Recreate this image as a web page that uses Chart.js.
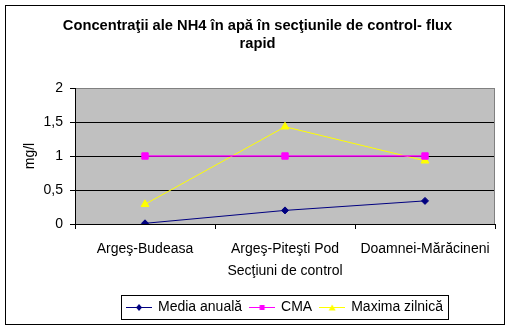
<!DOCTYPE html>
<html>
<head>
<meta charset="utf-8">
<script src="https://cdn.jsdelivr.net/npm/chart.js@4"></script>
<style>
  html, body { margin: 0; padding: 0; background: #fff; }
  #wrap { width: 511px; height: 330px; }
</style>
</head>
<body>
<div id="wrap"><canvas id="nh4Chart" width="511" height="330"></canvas></div>
<script>
const sectiuni = ["Argeş-Budeasa", "Argeş-Piteşti Pod", "Doamnei-Mărăcineni"];
const mediaAnuala = [0.01, 0.2, 0.34];
const cma = [1, 1, 1];
const maximaZilnica = [0.29, 1.43, 0.93];
const titlu = ["Concentraţii ale NH4 în apă în secţiunile de control- flux", "rapid"];

const FONT = "'Liberation Sans', Arial, sans-serif";

// mic desen pentru legenda: linie + marker
function legendIcon(color, shape) {
  const c = document.createElement("canvas");
  c.width = 26; c.height = 10;
  const g = c.getContext("2d");
  g.strokeStyle = color; g.fillStyle = color; g.lineWidth = 1;
  g.beginPath(); g.moveTo(0, 5.5); g.lineTo(26, 5.5); g.stroke();
  g.beginPath();
  if (shape === "diamond") {
    g.moveTo(13, 2); g.lineTo(16, 5.5); g.lineTo(13, 9); g.lineTo(10, 5.5);
  } else if (shape === "square") {
    g.rect(10.5, 3, 5, 5);
  } else {
    g.moveTo(13, 2.5); g.lineTo(16.5, 8.5); g.lineTo(9.5, 8.5);
  }
  g.closePath(); g.fill();
  return c;
}
const icons = [
  legendIcon("#000080", "diamond"),
  legendIcon("#ff00ff", "square"),
  legendIcon("#ffff00", "triangle"),
];

const chenar = {
  id: "chenar",
  beforeDraw(chart) {
    const { ctx, chartArea: a } = chart;
    ctx.save();
    ctx.fillStyle = "#fff";
    ctx.fillRect(0, 0, chart.width, chart.height);
    ctx.strokeStyle = "#000";
    ctx.lineWidth = 1;
    ctx.strokeRect(5.5, 5.5, 499, 319);
    ctx.fillStyle = "#c0c0c0";
    ctx.fillRect(a.left, a.top, a.right - a.left, a.bottom - a.top);
    ctx.restore();
  },
  afterDraw(chart) {
    const { ctx, chartArea: a } = chart;
    ctx.save();
    ctx.strokeStyle = "#808080";
    ctx.lineWidth = 1;
    ctx.beginPath();
    ctx.moveTo(Math.round(a.right) - 0.5, a.top);
    ctx.lineTo(Math.round(a.right) - 0.5, a.bottom);
    ctx.stroke();
    // chenar legenda
    const boxes = chart.legend.legendHitBoxes;
    if (boxes && boxes.length) {
      const l = Math.min(...boxes.map(b => b.left)) - 6;
      const r = Math.max(...boxes.map(b => b.left + b.width)) + 5;
      const t = Math.min(...boxes.map(b => b.top)) - 5;
      const bt = Math.max(...boxes.map(b => b.top + b.height)) + 5;
      ctx.strokeStyle = "#000";
      ctx.strokeRect(Math.round(l) + 0.5, Math.round(t) + 0.5, Math.round(r - l), Math.round(bt - t));
    }
    ctx.restore();
  }
};

Chart.defaults.color = "#000";
Chart.defaults.font.family = FONT;
Chart.defaults.font.size = 14;

new Chart(document.getElementById("nh4Chart"), {
  type: "line",
  data: {
    labels: sectiuni,
    datasets: [
      {
        label: "Media anuală",
        data: mediaAnuala,
        borderColor: "#000080",
        backgroundColor: "#000080",
        pointStyle: "rectRot",
        pointRadius: 3.5,
        borderWidth: 1,
      },
      {
        label: "CMA",
        data: cma,
        borderColor: "#ff00ff",
        backgroundColor: "#ff00ff",
        pointStyle: "rect",
        pointRadius: 4.5,
        borderWidth: 1.5,
      },
      {
        label: "Maxima zilnică",
        data: maximaZilnica,
        borderColor: "#ffff00",
        backgroundColor: "#ffff00",
        pointStyle: "triangle",
        pointRadius: 4.5,
        borderWidth: 1,
      },
    ],
  },
  options: {
    responsive: false,
    animation: false,
    devicePixelRatio: 1,
    layout: { padding: { top: 6, left: 20, right: 16, bottom: 6 } },
    elements: { line: { tension: 0 }, point: { pointBorderWidth: 1 } },
    scales: {
      x: {
        offset: true,
        afterFit: (s) => { s.height = 68; },
        grid: { drawOnChartArea: false, drawTicks: true, tickLength: 5, offset: true, tickColor: "#000" },
        border: { color: "#000", width: 1 },
        ticks: { padding: 12, maxRotation: 0, font: { size: 14 } },
        title: { display: true, text: "Secţiuni de control", font: { size: 14 }, padding: { top: 0, bottom: 12 } },
      },
      y: {
        min: 0,
        max: 2,
        afterFit: (s) => { s.width = 55; },
        grid: {
          color: (c) => (c.tick && c.tick.value === 2 ? "#808080" : "#000"),
          tickColor: "#000",
          tickLength: 5,
          drawTicks: true,
        },
        border: { color: "#000", width: 1 },
        ticks: {
          stepSize: 0.5,
          padding: 7,
          font: { size: 14 },
          callback: (v) => String(v).replace(".", ","),
        },
        title: { display: true, text: "mg/l", font: { size: 14 }, padding: { top: 2, bottom: 0 } },
      },
    },
    plugins: {
      title: {
        display: true,
        text: titlu,
        font: { size: 14.7, weight: "bold", lineHeight: "18px" },
        padding: { top: 11, bottom: 35 },
      },
      legend: {
        position: "bottom",
        fullSize: false,
        labels: {
          usePointStyle: true,
          pointStyleWidth: 24,
          padding: 8,
          font: { size: 14 },
          generateLabels: (chart) =>
            Chart.defaults.plugins.legend.labels.generateLabels(chart).map((it, i) => {
              it.pointStyle = icons[i];
              return it;
            }),
        },
      },
      tooltip: { enabled: false },
    },
  },
  plugins: [chenar],
});
</script>
</body>
</html>
